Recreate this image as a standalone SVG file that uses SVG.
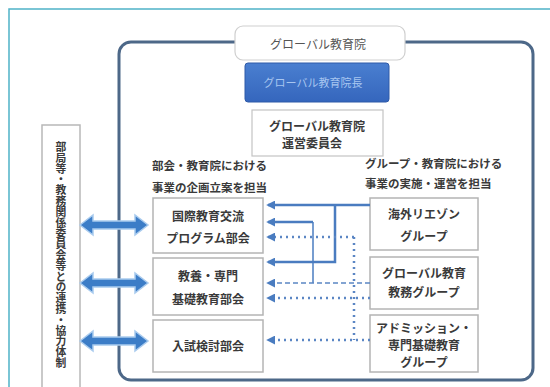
<svg xmlns="http://www.w3.org/2000/svg" width="550" height="387" viewBox="0 0 550 387">
<defs>
<style>
.t{font-family:"Noto Sans CJK JP","Noto Sans",sans-serif;font-size:12px;font-weight:bold;fill:#3a3a3a;text-anchor:middle;dominant-baseline:central}
.lab{font-family:"Noto Sans CJK JP","Noto Sans",sans-serif;font-size:11.5px;font-weight:bold;fill:#3a3a3a;dominant-baseline:central}
.box{fill:#ffffff;stroke:#b4b4b4;stroke-width:1.5}
.solid{fill:none;stroke:#4a7cc0;stroke-width:2.5}
.dash{fill:none;stroke:#5b86c4;stroke-width:1.3;stroke-dasharray:5 3}
.dot{fill:none;stroke:#5b86c4;stroke-width:2.5;stroke-dasharray:2 4}
.dbl{fill:#3c7dc7;stroke:#a9cbee;stroke-width:1.5}
</style>
<marker id="ah" viewBox="0 0 10 10" refX="8" refY="5" markerWidth="9" markerHeight="9" markerUnits="userSpaceOnUse" orient="auto">
<path d="M0,0 L10,5 L0,10 z" fill="#4a7cc0"/>
</marker>
<path id="dblarrow" d="M0,0 L13,-10 L13,-4 L55,-4 L55,-10 L68,0 L55,10 L55,4 L13,4 L13,10 Z"/>
<linearGradient id="bg" x1="0" y1="0" x2="0" y2="1">
<stop offset="0" stop-color="#4a7fd0"/>
<stop offset="1" stop-color="#3566bd"/>
</linearGradient>
</defs>
<rect x="0" y="0" width="550" height="387" fill="#ffffff"/>
<rect x="9" y="9" width="560" height="400" fill="none" stroke="#4fb3c8" stroke-width="1.5"/>
<g id="frame">
<rect x="119" y="42" width="414" height="338" rx="12" fill="none" stroke="#4d6888" stroke-width="3"/>
</g>
<g id="top-label">
<rect x="235" y="26" width="170" height="34" rx="8" fill="#ffffff" stroke="#cfcfcf" stroke-width="1.2"/>
<text class="t" x="318" y="43" style="font-weight:normal;fill:#555">グローバル教育院</text>
</g>
<g id="dean">
<rect x="245" y="63" width="144" height="39" rx="3" fill="url(#bg)" stroke="#2f5aa8" stroke-width="1"/>
<text class="t" x="313" y="82" style="font-weight:normal;fill:#a8c6f0;font-size:11px">グローバル教育院長</text>
</g>
<g id="committee">
<rect x="252" y="110" width="131" height="46" fill="#ffffff" stroke="#c4c4c4" stroke-width="1.2"/>
<text class="t" x="317" y="125">グローバル教育院</text>
<text class="t" x="312" y="142">運営委員会</text>
</g>
<g id="label-left">
<text class="lab" x="152" y="165">部会・教育院における</text>
<text class="lab" x="152" y="187">事業の企画立案を担当</text>
</g>
<g id="label-right">
<text class="lab" x="365" y="163">グループ・教育院における</text>
<text class="lab" x="365" y="183">事業の実施・運営を担当</text>
</g>
<g id="panel">
<rect x="42" y="125" width="38" height="270" fill="#ffffff" stroke="#b8b8b8" stroke-width="1.5"/>
<text x="61" y="255" style="font-family:'Noto Sans CJK JP','Noto Sans',sans-serif;font-size:10.8px;font-weight:bold;fill:#3a3a3a;writing-mode:vertical-rl;text-anchor:middle">部局等・教務関係委員会等との連携・協力体制</text>
</g>
<g id="sub1">
<rect class="box" x="153" y="198" width="110" height="55"/>
<text class="t" x="208" y="215">国際教育交流</text>
<text class="t" x="208" y="237">プログラム部会</text>
</g>
<g id="sub2">
<rect class="box" x="153" y="258" width="110" height="57"/>
<text class="t" x="208" y="275">教養・専門</text>
<text class="t" x="208" y="298">基礎教育部会</text>
</g>
<g id="sub3">
<rect class="box" x="153" y="320" width="110" height="52"/>
<text class="t" x="208" y="345">入試検討部会</text>
</g>
<g id="grp1">
<rect class="box" x="370" y="198" width="108" height="52"/>
<text class="t" x="424" y="213">海外リエゾン</text>
<text class="t" x="424" y="235">グループ</text>
</g>
<g id="grp2">
<rect class="box" x="370" y="257" width="108" height="52"/>
<text class="t" x="424" y="272">グローバル教育</text>
<text class="t" x="424" y="291">教務グループ</text>
</g>
<g id="grp3">
<rect class="box" x="370" y="315" width="108" height="57"/>
<text class="t" x="424" y="327">アドミッション・</text>
<text class="t" x="424" y="344">専門基礎教育</text>
<text class="t" x="424" y="361">グループ</text>
</g>
<g id="connectors">
<use href="#dblarrow" class="dbl" transform="translate(80,225)"/>
<use href="#dblarrow" class="dbl" transform="translate(80,283)"/>
<use href="#dblarrow" class="dbl" transform="translate(80,341)"/>
<path class="solid" d="M370,205 H268" marker-end="url(#ah)"/>
<path class="solid" d="M335,205 V262 H268" marker-end="url(#ah)"/>
<path class="solid" d="M313,222 H268" marker-end="url(#ah)"/>
<path class="solid" d="M313,222 V283" style="stroke-width:1.5"/>
<path class="dash" d="M370,283 H268" marker-end="url(#ah)"/>
<path class="dot" d="M354,237 H268" marker-end="url(#ah)"/>
<path class="dot" d="M354,237 V340"/>
<path class="dot" d="M370,298 H268" marker-end="url(#ah)"/>
<path class="dot" d="M370,340 H268" marker-end="url(#ah)"/>
</g>
</svg>
